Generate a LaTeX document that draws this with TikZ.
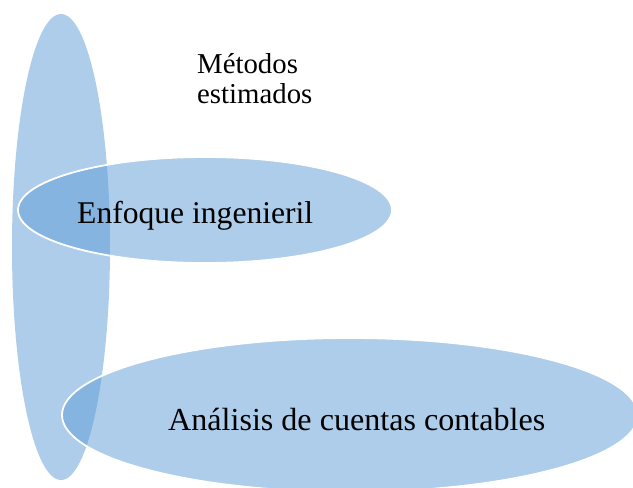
\documentclass[tikz,border=0pt]{standalone}
\usepackage{fontspec}
\setmainfont{Liberation Serif}
\definecolor{accentblue}{RGB}{91,155,213}
\tikzset{
  blob/.style={fill=accentblue, fill opacity=0.5},
  ringblob/.style={blob, draw=white, draw opacity=1, line width=1.8pt},
  bigtext/.style={anchor=base west, inner sep=0pt, font=\fontsize{31.6}{34}\selectfont},
  lowtext/.style={anchor=base west, inner sep=0pt, font=\fontsize{32.1}{34}\selectfont},
  titletext/.style={anchor=base west, inner sep=0pt, font=\fontsize{28.8}{30}\selectfont},
}
\begin{document}
\begin{tikzpicture}[x=1pt,y=-1pt]
\useasboundingbox (0,0) rectangle (633,488);
\begin{scope}
\clip (0,0) rectangle (633,488);
% tall ellipse
\fill[blob] (61,247) ellipse [x radius=49pt, y radius=233pt];
% horizontal ellipses
\filldraw[ringblob] (205,210) ellipse [x radius=187pt, y radius=53pt];
\filldraw[ringblob] (350,415) ellipse [x radius=288pt, y radius=77pt];
\end{scope}
\node[titletext] (titulo) at (197,73) {\begin{tabular}[t]{@{}l@{}}Métodos\\estimados\end{tabular}};
\node[bigtext] (enfoque) at (77,223) {Enfoque ingenieril};
\node[lowtext] (analisis) at (168,430) {Análisis de cuentas contables};
\end{tikzpicture}
\end{document}
